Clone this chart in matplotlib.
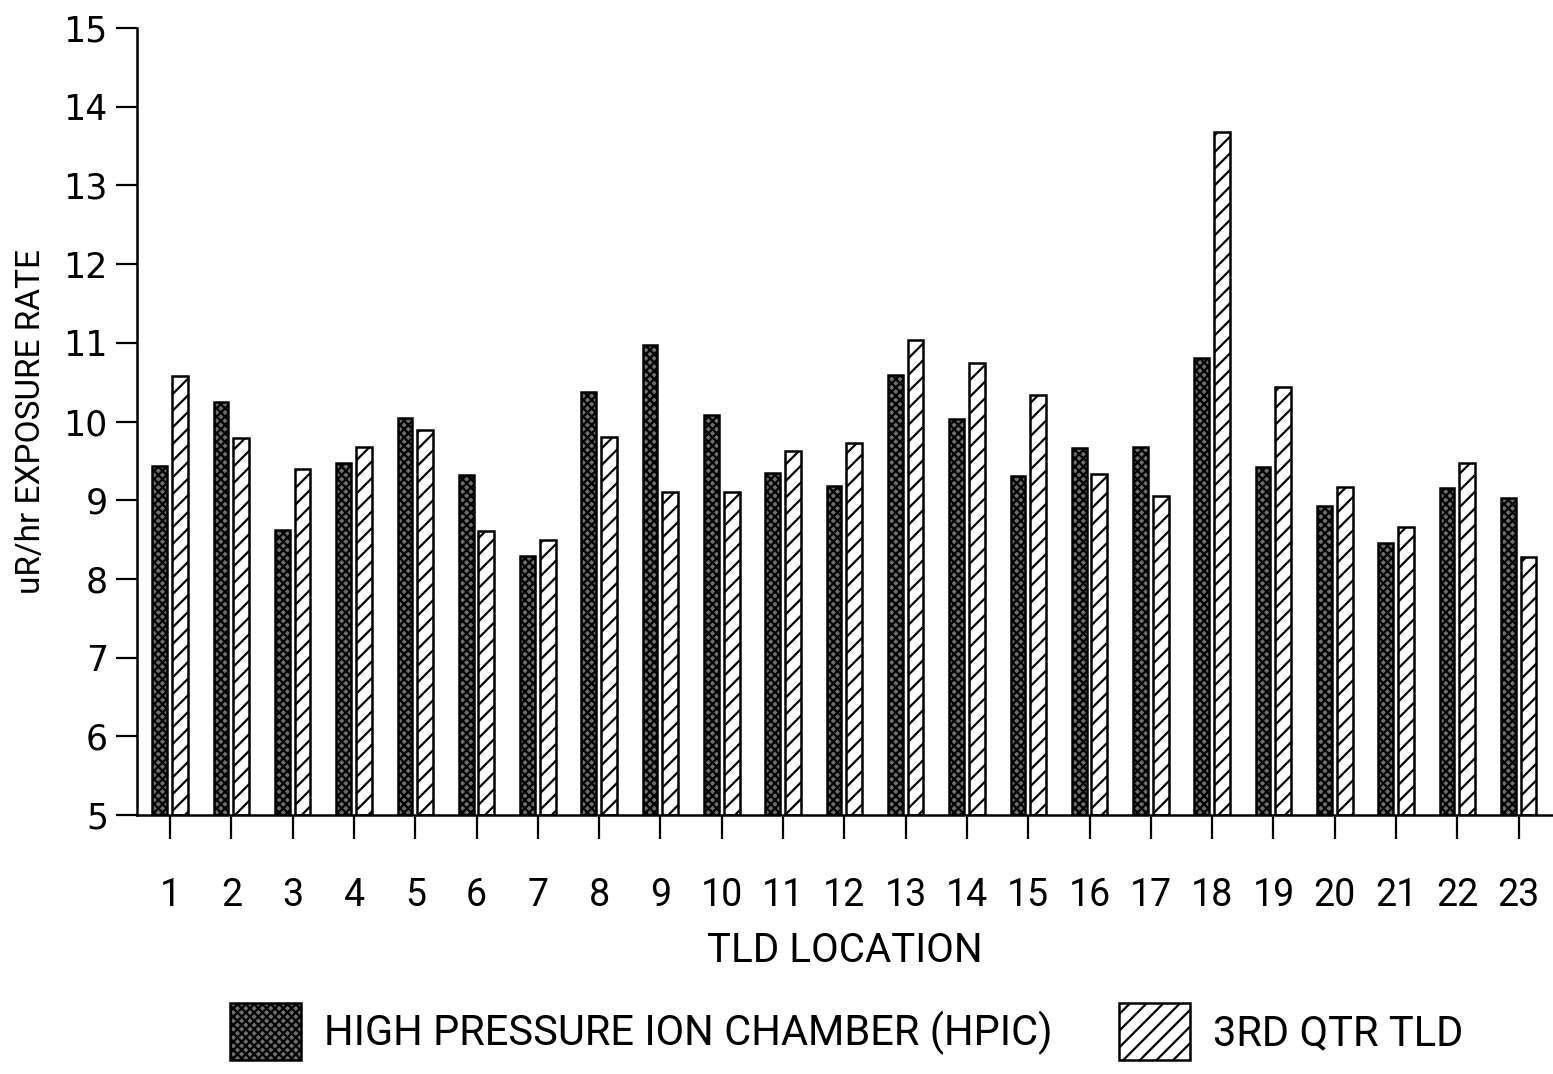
import matplotlib
matplotlib.use("Agg")
import matplotlib.pyplot as plt
import numpy as np

# values (uR/hr)
locations = [str(i) for i in range(1, 24)]
hpic = [9.43, 10.25, 8.62, 9.47, 10.04, 9.32, 8.29, 10.37, 10.97, 10.08,
        9.35, 9.18, 10.59, 10.03, 9.31, 9.66, 9.68, 10.81, 9.42, 8.93,
        8.46, 9.16, 9.03]
tld_q3 = [10.58, 9.79, 9.40, 9.68, 9.89, 8.61, 8.50, 9.80, 9.10, 9.10,
          9.62, 9.73, 11.03, 10.74, 10.34, 9.33, 9.05, 13.68, 10.44, 9.17,
          8.66, 9.47, 8.28]
yticks = list(range(5, 16))

NARROW = ["Roboto", "DejaVu Sans"]
plt.rcParams["hatch.linewidth"] = 1.6

fig = plt.figure(figsize=(15.53, 10.74), dpi=100)
ax = fig.add_axes([137 / 1553, 1 - 815 / 1074, 1 - 137 / 1553, (815 - 28) / 1074])

x = np.arange(1, len(locations) + 1)
base = 5
ax.bar(x - 0.17, np.array(hpic) - base, bottom=base, width=0.24,
       facecolor="#6e6e6e", edgecolor="black", hatch="xxxx", linewidth=1.8,
       label="HIGH PRESSURE ION CHAMBER (HPIC)")
ax.bar(x + 0.16, np.array(tld_q3) - base, bottom=base, width=0.26,
       facecolor="white", edgecolor="black", hatch="//", linewidth=1.8,
       label="3RD QTR TLD")

ax.set_ylim(5, 15)
ax.set_xlim(0.46, 23.56)
ax.set_yticks(yticks)
ax.set_yticklabels([str(v) for v in yticks], fontsize=25)
ax.set_xticks(x)
ax.set_xticklabels(locations, fontsize=27, family=NARROW)
ax.tick_params(axis="y", direction="out", length=15, width=1.6, pad=6)
ax.tick_params(axis="x", direction="out", length=17, width=1.6, pad=28)

for side in ["top", "right"]:
    ax.spines[side].set_visible(False)
for side in ["left", "bottom"]:
    ax.spines[side].set_linewidth(1.8)

ax.set_ylabel("uR/hr EXPOSURE RATE", fontsize=24, family=NARROW, labelpad=12)
ax.set_xlabel("TLD LOCATION", fontsize=29, family=NARROW, labelpad=12)

fig.legend(loc="lower center", bbox_to_anchor=(0.545, -0.022), ncol=2,
           frameon=False, prop={"family": NARROW, "size": 30},
           handlelength=1.7, handleheight=1.75, columnspacing=1.6,
           handletextpad=0.55)

fig.savefig("out.png", dpi=100, facecolor="white")
